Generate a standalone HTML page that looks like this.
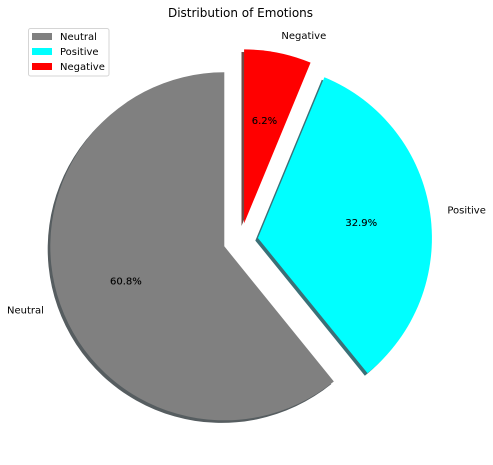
<!DOCTYPE html>
<html>
<head>
<meta charset="utf-8">
<title>Distribution of Emotions</title>
<style>
html,body{margin:0;padding:0;background:#fff;}
svg{display:block;}
text{font-family:"DejaVu Sans","Liberation Sans",sans-serif;fill:#000;}
</style>
</head>
<body>
<svg id="chart" width="493" height="465" viewBox="0 0 493 465" xmlns="http://www.w3.org/2000/svg">
<text x="240.5" y="17" font-size="12" text-anchor="middle">Distribution of Emotions</text>
<g id="shadows"></g>
<g id="wedges"></g>
<g id="labels"></g>
<g id="legend">
<rect x="28.5" y="28.5" width="80.5" height="47.5" rx="2" fill="#fff" stroke="#d5d5d5" stroke-width="1"></rect>
</g>
</svg>
<script>
const categories = ['Neutral', 'Positive', 'Negative'];
const values = [60.84, 32.92, 6.24];
const explode = [0.1, 0.1, 0.1];
const colors = ['#808080', '#00ffff', '#ff0000'];
const shadowColors = ['#565d60', '#3b7077', '#6f4a45'];

const NS = 'http://www.w3.org/2000/svg';
const cx = 240.7, cy = 240.5, radius = 174, startAngle = 90;
const total = values.reduce(function (a, b) { return a + b; }, 0);

function angleScale(v) { return v / total * 360; }
function polar(ox, oy, r, deg) {
  const t = deg * Math.PI / 180;
  return [ox + r * Math.cos(t), oy - r * Math.sin(t)];
}
function wedgePath(ox, oy, r, a0, a1) {
  const p0 = polar(ox, oy, r, a0);
  const p1 = polar(ox, oy, r, a1);
  const large = (a1 - a0) > 180 ? 1 : 0;
  return 'M' + ox + ' ' + oy + 'L' + p0[0] + ' ' + p0[1] +
    'A' + r + ' ' + r + ' 0 ' + large + ' 0 ' + p1[0] + ' ' + p1[1] + 'Z';
}
function addText(parent, x, y, str, anchor) {
  const t = document.createElementNS(NS, 'text');
  t.setAttribute('x', x);
  t.setAttribute('y', y);
  t.setAttribute('font-size', '10');
  t.setAttribute('text-anchor', anchor);
  t.textContent = str;
  parent.appendChild(t);
  return t;
}

const shadowLayer = document.getElementById('shadows');
const wedgeLayer = document.getElementById('wedges');
const labelLayer = document.getElementById('labels');
const legendLayer = document.getElementById('legend');

let angle = startAngle;
categories.forEach(function (name, i) {
  const sweep = angleScale(values[i]);
  const a0 = angle, a1 = angle + sweep, mid = angle + sweep / 2;
  const origin = polar(cx, cy, explode[i] * radius, mid);

  const shadow = document.createElementNS(NS, 'path');
  
  
  shadow.setAttribute('d', wedgePath(origin[0] - 2.6, origin[1] + 2.6, radius, a0, a1));
  shadow.setAttribute('fill', shadowColors[i]);
  shadowLayer.appendChild(shadow);

  const wedge = document.createElementNS(NS, 'path');
  
  
  wedge.setAttribute('d', wedgePath(origin[0], origin[1], radius, a0, a1));
  wedge.setAttribute('fill', colors[i]);
  wedgeLayer.appendChild(wedge);

  const lp = polar(origin[0], origin[1], radius * 1.1, mid);
  const label = addText(labelLayer, lp[0], lp[1] + 3.1, name, Math.cos(mid * Math.PI / 180) < 0 ? 'end' : 'start');
  
  

  const pp = polar(origin[0], origin[1], radius * 0.6, mid);
  const pct = addText(labelLayer, pp[0], pp[1] + 3.1, (values[i] / total * 100).toFixed(1) + '%', 'middle');
  
  
  pct.setAttribute('stroke', '#000');
  pct.setAttribute('stroke-width', '0.12');

  const swatch = document.createElementNS(NS, 'rect');
  
  
  swatch.setAttribute('x', 32);
  swatch.setAttribute('y', 33 + i * 15);
  swatch.setAttribute('width', 20);
  swatch.setAttribute('height', 7);
  swatch.setAttribute('fill', colors[i]);
  legendLayer.appendChild(swatch);

  const entry = addText(legendLayer, 60, 40 + i * 15, name, 'start');
  
  

  angle = a1;
});
</script>
</body>
</html>
